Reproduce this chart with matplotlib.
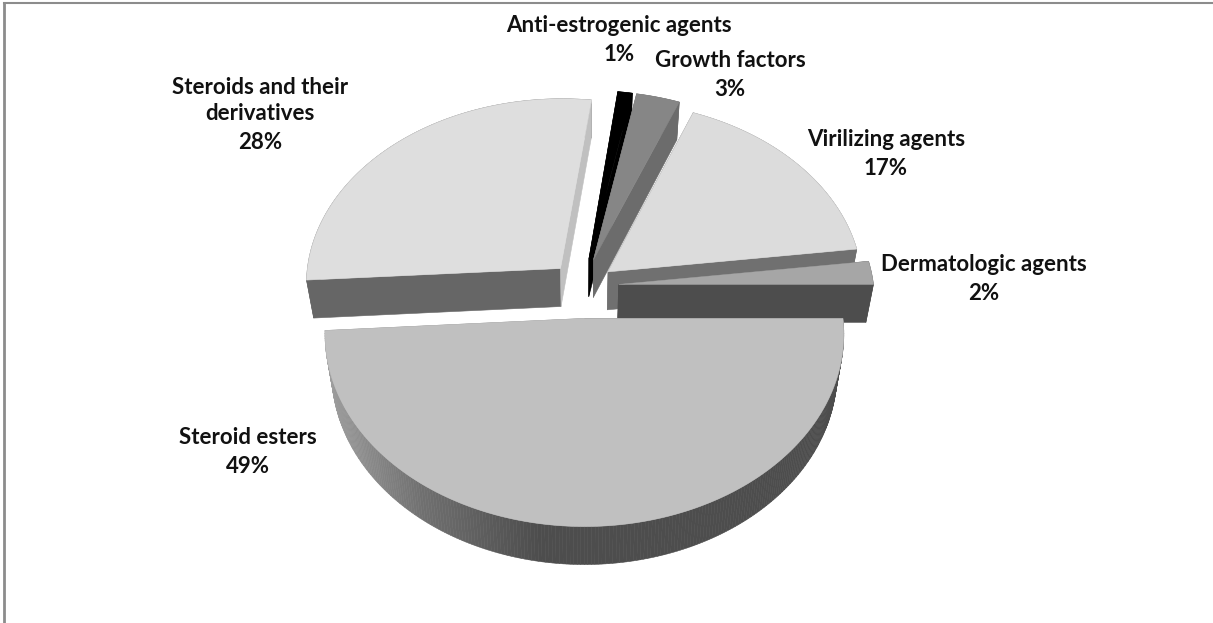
import numpy as np
import matplotlib
matplotlib.use('Agg')
import matplotlib.pyplot as plt

# data
categories = ['Anti-estrogenic agents', 'Growth factors', 'Virilizing agents',
              'Dermatologic agents', 'Steroid esters', 'Steroids and their\nderivatives']
values = [1, 3, 17, 2, 49, 28]
explode = [0.15, 0.15, 0.125, 0.14, 0.172, 0.13]

# colours
top_colors = ['#000000', '#868686', '#dcdcdc', '#a6a6a6', '#c0c0c0', '#dedede']
start_cut_colors = ['#000000', '#6c6c6c', '#707070', '#4d4d4d', '#4d4d4d', '#666666']
end_cut_colors = ['#000000', '#6c6c6c', '#707070', '#4d4d4d', '#8a8a8a', '#c0c0c0']
wall_colors = ['#000000', '#6c6c6c', '#707070', '#4d4d4d', None, '#666666']

# label baselines in pixels: x centre, y of the name's last line
label_pos = [(619, 32), (730, 67), (886, 146), (984, 271), (248, 444), (260, 120)]
pct_gap = 29

# pie geometry
cx, cy = 583, 286
rx, ry = 255, 186
depth = 38
persp = 0.08
taper = 0.026
start_angle = 0.0

plt.rcParams['font.family'] = ['Lato', 'DejaVu Sans']
fig = plt.figure(figsize=(12.13, 6.23), dpi=100)
ax = fig.add_axes([0, 0, 1, 1])
ax.set_xlim(0, 1213)
ax.set_ylim(623, 0)
ax.axis('off')


def project(u, v, z=0.0):
    s = 1 / (1 + persp * v)
    return cx + rx * u * s * (1 - taper * z), cy - ry * v * s + depth * z


def face(x, y, color, zorder):
    ax.fill(x, y, facecolor=color, edgecolor=color, linewidth=0.4, zorder=zorder)


def wall_shade(x):
    # gradient on the front rim of the big slice
    return np.interp(x, [325, 420, 540, 850], [0.62, 0.44, 0.30, 0.30])


# angles run clockwise from the start angle, in the order of the big slice first
order = [4, 5, 0, 1, 2, 3]
angles = {}
a = start_angle
for i in order:
    angles[i] = (a, a - values[i] / sum(values) * 360)
    a = angles[i][1]

# painter order, back slices first
draw_order = [0, 1, 2, 3, 5, 4]
for n, i in enumerate(draw_order):
    a0, a1 = angles[i]
    mid = np.radians((a0 + a1) / 2)
    ou = explode[i] * np.cos(mid)
    ov = explode[i] * np.sin(mid)
    t = np.radians(np.linspace(a0, a1, 240))
    u = ou + np.cos(t)
    v = ov + np.sin(t)
    zo = 2 + n

    # rim
    xt, yt = project(u, v)
    xb, yb = project(u, v, 1)
    if wall_colors[i] is None:
        for k in range(len(t) - 1):
            xm = (xt[k] + xt[k + 1]) / 2
            face([xt[k], xt[k + 1], xb[k + 1], xb[k]], [yt[k], yt[k + 1], yb[k + 1], yb[k]],
                 str(wall_shade(xm)), zo)
    else:
        face(np.r_[xt, xb[::-1]], np.r_[yt, yb[::-1]], wall_colors[i], zo)

    # the two cut faces
    tx0, ty0 = project(ou, ov)
    tx1, ty1 = project(ou, ov, 1)
    face([tx0, xt[0], xb[0], tx1], [ty0, yt[0], yb[0], ty1], start_cut_colors[i], zo)
    face([tx0, xt[-1], xb[-1], tx1], [ty0, yt[-1], yb[-1], ty1], end_cut_colors[i], zo)

    # top surface
    face(np.r_[tx0, xt], np.r_[ty0, yt], top_colors[i], zo)

for i, name in enumerate(categories):
    x, y = label_pos[i]
    ax.text(x, y, name, ha='center', va='baseline', fontsize=16, fontweight='bold',
            color='#111111', linespacing=1.3, zorder=20)
    ax.text(x, y + pct_gap, f'{values[i]}%', ha='center', va='baseline', fontsize=16,
            fontweight='bold', color='#111111', zorder=20)

# chart frame
ax.plot([4, 4], [623, 3], color='#8c8c8c', linewidth=2, zorder=1)
ax.plot([4, 1213], [3, 3], color='#8c8c8c', linewidth=1.5, zorder=1)

fig.savefig('out.png', dpi=100)
